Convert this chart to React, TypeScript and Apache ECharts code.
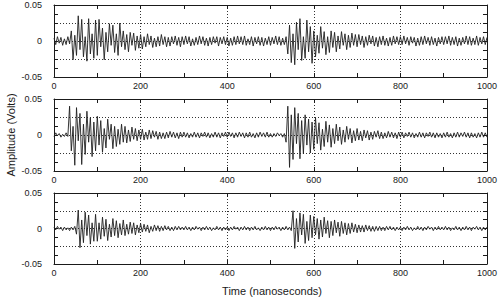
import React, { useEffect, useRef } from "react";
import * as echarts from "echarts";

// Sampling of the recorded waveforms: one sample every 4 ns from 0 to 1000 ns
const SAMPLE_STEP_NS = 4;

// Amplitudes in millivolts (251 samples each)
const wave1mV = [
  4, -5, 6, -3, 5, -6, 3, -5, 6, -4,
  14, -26, 8, -20, 35, -12, 30, -22, 6, -28, 31, -18, 10, -24, 29,
  -20, 30, -8, 18, -26, 12, -15, 24, -6, 22, -16, 10, -20, 25, -8, 14, -12, 9, -15, 12, -6, 11, -13, 7, -10,
  9, -11, 6, -8, 10, -5, 7, -9, 4, -8, 6, -7, 9, -5, 6, -8, 5, -7, 6, -4, 7, -6, 5, -8, 6,
  -5, 7, -4, 6, -7, 3, -6, 5, -5, 7, -4, 6, -6, 4, -7, 5, -5, 6, -3, 6, -7, 5, -4, 6, -5,
  5, -7, 4, -6, 6, -5, 7, -4, 6, -5, 7, -6, 3, -5, 6, -7, 5, -4, 6, -6, 5, -7, 4, -5, 6,
  -6, 5, -4, 7, -5, 6, -6, 4, -5, 6,
  -18, 22, -30, 10, -33, 26, -12, 31, -27, 6, -24, 29, -15, 20, -31,
  14, -22, 8, -17, 20, -10, 13, -19, 6, -16, 14, -9, 12, -15, 7, -11, 13, -6, 10, -12, 8, -9, 11, -6, 9,
  -8, 9, -5, 7, -9, 6, -6, 8, -4, 7, -7, 5, -8, 6, -5, 7, -6, 4, -7, 5, -6, 7, -4, 6, -5,
  6, -5, 7, -4, 5, -6, 6, -3, 5, -7, 4, -6, 6, -5, 7, -4, 5, -6, 6, -5, 4, -7, 5, -4, 6,
  -5, 6, -4, 7, -6, 5, -5, 6, -7, 4, -6, 5, -4, 7, -5, 6, -6, 4, -5, 7, -6, 5, -4, 6, -5, 5,
];

const wave2mV = [
  -2, 3, -1, 2, -3, 1, -2, 3, -2,
  40, -22, 12, -42, 38, -8, 30, -41, 15, -27, 33, -10, 24, -30, 18, -22,
  26, -14, 20, -24, 9, -18, 22, -6, 15, -19, 12, -16, 8, -13, 15, -10, 12, -11, 7, -9, 11, -6, 9, -8, 7,
  -6, 8, -7, 4, -6, 7, -5, 6, -3, 5, -6, 4, -5, 3, -5, 4, -4, 5, -3, 4, -4, 3, -5, 4, -3,
  4, -3, 3, -4, 2, -3, 4, -3, 3, -4, 3, -2, 4, -3, 3, -4, 2, -3, 4, -3, 3, -4, 3, -2, 4,
  -3, 4, -2, 3, -4, 3, -3, 4, -2, 3, -4, 3, -3, 4, -3, 2, -4, 3, -3, 4, -2, 3, -3, 4, -3,
  2, -3, 2, -2, 3, -1, 2, -3, 2,
  -10, 40, -45, 28, -34, 38, -12, 30, -33, 20, -26, 28, -14, 22, -25, 18,
  -20, 24, -12, 17, -21, 8, -16, 19, -10, 14, -17, 9, -12, 15, -8, 11, -13, 7, -10, 12, -6, 9, -11, 6, -8,
  9, -7, 5, -8, 7, -4, 6, -7, 4, -6, 5, -3, 6, -5, 4, -5, 3, -4, 5, -3, 4, -4, 3, -5, 4,
  -3, 4, -4, 3, -2, 4, -3, 3, -4, 2, -3, 4, -3, 3, -4, 3, -2, 4, -3, 3, -4, 3, -3, 2, -4,
  3, -3, 4, -3, 2, -4, 3, -3, 4, -3, 3, -2, 4, -3, 3, -4, 3, -3, 2, -4, 3, -3, 4, -3, 3, -3,
];

const wave3mV = [
  2, -2, 3, -1, 2, -3, 2, -2, 1, -3, 2, -2, 3,
  -8, 26, -27, 12, -20, 23, -10, 19, -22, 8, -18, 20,
  -18, 8, -15, 16, -11, 13, -17, 6, -12, 14, -10, 11, -13, 7, -9, 12, -10, 6, -8, 9, -7, 8, -9, 5, -6,
  7, -5, 6, -4, 5, -6, 3, -4, 5, -3, 4, -4, 3, -3, 4, -2, 3, -3, 2, -3, 3, -2, 3, -2, 2,
  -2, 3, -2, 2, -3, 2, -2, 3, -1, 2, -3, 2, -2, 3, -2, 2, -3, 1, -2, 3, -2, 2, -3, 2, -2,
  2, -3, 2, -2, 3, -1, 2, -3, 2, -2, 3, -2, 2, -3, 2, -2, 3, -2, 1, -3, 2, -2, 3, -2, 2,
  -3, 2, -2, 3, -1, 2, -3, 2, -2, 3, -2, 2, -3,
  25, -28, 14, -19, 22, -9, 20, -21, 10, -17, 19, -13,
  17, -9, 14, -15, 12, -12, 16, -7, 11, -13, 10, -10, 12, -6, 9, -11, 10, -7, 8, -9, 7, -7, 8, -5, 6,
  -6, 5, -5, 4, -5, 5, -3, 4, -4, 3, -4, 3, -3, 3, -3, 2, -3, 3, -2, 3, -2, 2, -3, 2, -2,
  2, -3, 2, -2, 3, -2, 2, -3, 1, -2, 3, -2, 2, -3, 2, -2, 3, -1, 2, -3, 2, -2, 3, -2, 2,
  -2, 3, -2, 2, -3, 1, -2, 3, -2, 2, -3, 2, -2, 3, -2, 2, -3, 2, -1, 3, -2, 2, -3, 2, -2, 2,
];

const xTickLabels = [0, 200, 400, 600, 800, 1000];
const yTickLabels = [-0.05, 0, 0.05];

const X_MIN = 0;
const X_MAX = 1000;
const Y_MIN = -0.05;
const Y_MAX = 0.05;

const FONT = "Liberation Sans, Arial, Helvetica, sans-serif";
const INK = "#1a1a1a";

export default function App() {
  const ref = useRef<HTMLDivElement>(null);

  useEffect(() => {
    if (!ref.current) return;
    const chart = echarts.init(ref.current, undefined, { renderer: "svg" });

    const waves = [wave1mV, wave2mV, wave3mV];
    const grids = [
      { left: 54, right: 10, top: 5, height: 72 },
      { left: 54, right: 10, top: 99, height: 72 },
      { left: 54, right: 10, top: 193, height: 71 },
    ];

    const xAxes: any[] = [];
    const yAxes: any[] = [];
    const series: any[] = [];

    const tickCommon = {
      axisLine: { show: true, onZero: false, lineStyle: { color: INK, width: 1 } },
      axisTick: { show: true, inside: true, length: 4, lineStyle: { color: INK, width: 1 } },
      minorTick: { show: true, splitNumber: 2, length: 4, lineStyle: { color: INK, width: 1 } },
      minorSplitLine: { show: false },
    };

    grids.forEach((g, i) => {
      xAxes.push({
        type: "value",
        gridIndex: i,
        position: "bottom",
        min: X_MIN,
        max: X_MAX,
        interval: 200,
        ...tickCommon,
        axisLabel: {
          show: true,
          margin: 4,
          fontSize: 9,
          color: INK,
          fontFamily: FONT,
          formatter: (v: number) =>
            xTickLabels.some((t) => Math.abs(t - v) < 1e-6) ? String(v) : "",
        },
        splitLine: { show: true, lineStyle: { type: [1, 2], color: "#333", width: 1 } },
      });
      xAxes.push({
        type: "value",
        gridIndex: i,
        position: "top",
        min: X_MIN,
        max: X_MAX,
        interval: 200,
        ...tickCommon,
        axisLabel: { show: false },
        splitLine: { show: false },
      });
      yAxes.push({
        type: "value",
        gridIndex: i,
        position: "left",
        min: Y_MIN,
        max: Y_MAX,
        interval: 0.025,
        ...tickCommon,
        axisLabel: {
          show: true,
          margin: 12,
          fontSize: 9,
          color: INK,
          fontFamily: FONT,
          formatter: (v: number) => {
            const hit = yTickLabels.find((t) => Math.abs(t - v) < 1e-9);
            return hit === undefined ? "" : String(hit);
          },
        },
        splitLine: { show: true, lineStyle: { type: [1, 2], color: "#333", width: 1 } },
      });
      yAxes.push({
        type: "value",
        gridIndex: i,
        position: "right",
        min: Y_MIN,
        max: Y_MAX,
        interval: 0.025,
        ...tickCommon,
        axisLabel: { show: false },
        splitLine: { show: false },
      });

      series.push({
        type: "line",
        xAxisIndex: i * 2,
        yAxisIndex: i * 2,
        showSymbol: false,
        symbol: "none",
        silent: true,
        lineStyle: { color: "#202020", width: 0.9 },
        data: waves[i].map((mv, k) => [k * SAMPLE_STEP_NS, mv / 1000]),
        z: 3,
      });
    });

    chart.setOption({
      animation: false,
      backgroundColor: "#ffffff",
      grid: grids,
      xAxis: xAxes,
      yAxis: yAxes,
      series,
      graphic: [
        {
          type: "text",
          x: 11,
          y: 135,
          rotation: Math.PI / 2,
          style: {
            text: "Amplitude (Volts)",
            fontSize: 11,
            fontFamily: FONT,
            fill: INK,
            align: "center",
            verticalAlign: "middle",
          },
        },
        {
          type: "text",
          x: 272,
          y: 291,
          style: {
            text: "Time (nanoseconds)",
            fontSize: 11,
            fontFamily: FONT,
            fill: INK,
            align: "center",
            verticalAlign: "middle",
          },
        },
      ],
    });

    return () => chart.dispose();
  }, []);

  return <div ref={ref} style={{ width: 500, height: 300, position: "absolute", left: 0, top: 0 }} />;
}
